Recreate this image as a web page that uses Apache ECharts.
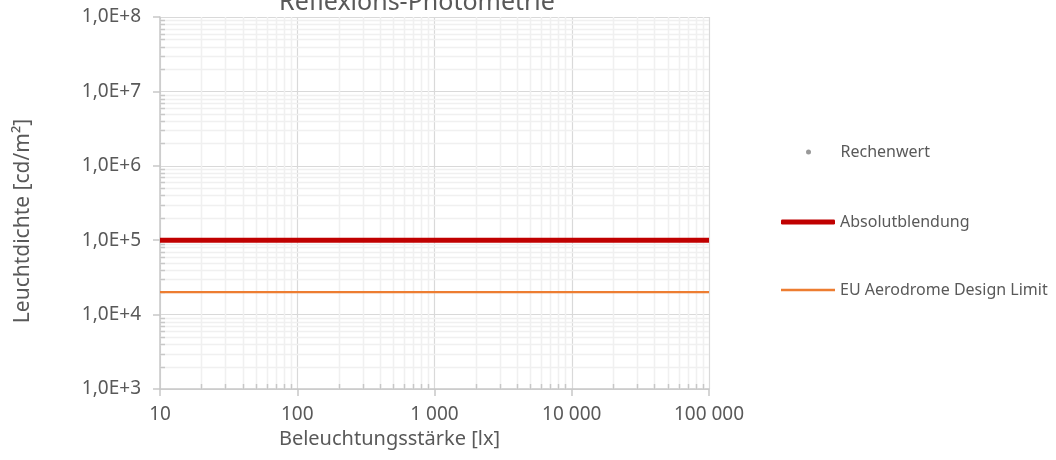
<!DOCTYPE html>
<html>
<head>
<meta charset="utf-8">
<script src="https://cdn.jsdelivr.net/npm/echarts@6/dist/echarts.min.js"></script>
<style>html,body{margin:0;padding:0;background:#fff}#c{width:1056px;height:460px}</style>
</head>
<body>
<div id="c"></div>
<script>
// ---- data ----
const chartTitle = 'Reflexions-Photometrie';
const xName = 'Beleuchtungsstärke [lx]';
const yName = 'Leuchtdichte [cd/m²]';
const xRange = [10, 100000];
const yRange = [1000, 100000000];
const rechenwert = [];                       // no visible points
const absolutblendungX = [10, 100000];
const absolutblendungY = [100000, 100000];
const euLimitX = [10, 100000];
const euLimitY = [20000, 20000];

// minor graduations (2..9 per decade) for log axes
function minors(lo, hi) {
  const out = [];
  for (let d = lo; d < hi; d *= 10) for (let k = 2; k <= 9; k++) out.push(d * k);
  return out;
}
const xMinor = minors(xRange[0], xRange[1]);
const yMinor = minors(yRange[0], yRange[1]);

const FONT = 'Noto Sans';
const TXT = '#595959';
const GRID_MAJOR = '#d9d9d9';
const GRID_MINOR = '#f0f0f0';
const AXIS = '#c8c8c8';

const chart = echarts.init(document.getElementById('c'));

function fmtX(v) { return String(Math.round(v)).replace(/\B(?=(\d{3})+(?!\d))/g, ' '); }
function fmtY(v) { return '1,0E+' + Math.round(Math.log10(v)); }

const legendText = { fontFamily: FONT, fontSize: 16, color: TXT };

const option = {
  animation: false,
  textStyle: { fontFamily: FONT },
  title: {
    text: chartTitle, left: 417, top: -10, padding: 0, textAlign: 'center',
    textStyle: { fontFamily: FONT, fontSize: 25, fontWeight: 'normal', color: TXT }
  },
  grid: { left: 160, right: 347, top: 17, bottom: 71 },
  legend: [
    { data: [{ name: 'Rechenwert', icon: 'circle' }], orient: 'vertical', left: 801, top: 139,
      itemWidth: 54, itemHeight: 5, textStyle: legendText },
    { data: [{ name: 'Absolutblendung', icon: 'roundRect' }], orient: 'vertical', left: 776, top: 209,
      itemWidth: 54, itemHeight: 5, textStyle: legendText },
    { data: [{ name: 'EU Aerodrome Design Limit', icon: 'rect' }], orient: 'vertical', left: 776, top: 277,
      itemWidth: 54, itemHeight: 2.5, textStyle: legendText }
  ],
  xAxis: {
    type: 'log', logBase: 10, min: xRange[0], max: xRange[1],
    name: xName, nameLocation: 'middle', nameGap: 36,
    nameTextStyle: { fontFamily: FONT, fontSize: 20, color: TXT, padding: [0, 90, 0, 0] },
    axisLine: { show: true, lineStyle: { color: AXIS, width: 1.5 } },
    axisTick: { show: true, length: 7, lineStyle: { color: AXIS, width: 1.5 } },
    axisLabel: { fontFamily: FONT, fontSize: 19, color: TXT, margin: 16, formatter: fmtX },
    splitLine: { show: true, lineStyle: { color: GRID_MAJOR, width: 1.2 } }
  },
  yAxis: {
    type: 'log', logBase: 10, min: yRange[0], max: yRange[1],
    name: yName, nameLocation: 'middle', nameGap: 126, nameRotate: 90,
    nameTextStyle: { fontFamily: FONT, fontSize: 21, color: TXT, padding: [0, 36, 0, 0] },
    axisLine: { show: true, lineStyle: { color: AXIS, width: 1.5 } },
    axisTick: { show: true, length: 7, lineStyle: { color: AXIS, width: 1.5 } },
    axisLabel: { fontFamily: FONT, fontSize: 19, color: TXT, margin: 19, formatter: fmtY },
    splitLine: { show: true, lineStyle: { color: GRID_MAJOR, width: 1.2 } }
  },
  series: [
    {
      type: 'custom', name: '_xminor', silent: true, z: 1,
      data: xMinor.map(v => [v, yRange[0]]),
      renderItem: function (params, api) {
        const cs = params.coordSys;
        const x = Math.round(api.coord([api.value(0), yRange[0]])[0]) + 0.5;
        const b = cs.y + cs.height;
        return { type: 'group', children: [
          { type: 'line', shape: { x1: x, y1: cs.y, x2: x, y2: b }, style: { stroke: GRID_MINOR, lineWidth: 1.5 } },
          { type: 'line', shape: { x1: x, y1: b - 5, x2: x, y2: b }, style: { stroke: AXIS, lineWidth: 1.5 } }
        ] };
      }
    },
    {
      type: 'custom', name: '_yminor', silent: true, z: 1,
      data: yMinor.map(v => [xRange[0], v]),
      renderItem: function (params, api) {
        const cs = params.coordSys;
        const y = Math.round(api.coord([xRange[0], api.value(1)])[1]) + 0.5;
        return { type: 'group', children: [
          { type: 'line', shape: { x1: cs.x, y1: y, x2: cs.x + cs.width, y2: y }, style: { stroke: GRID_MINOR, lineWidth: 1.5 } },
          { type: 'line', shape: { x1: cs.x, y1: y, x2: cs.x + 5, y2: y }, style: { stroke: AXIS, lineWidth: 1.5 } }
        ] };
      }
    },
    {
      type: 'scatter', name: 'Rechenwert', symbolSize: 5,
      itemStyle: { color: '#7f7f7f' }, data: rechenwert
    },
    {
      type: 'line', name: 'Absolutblendung', symbol: 'none', z: 4,
      lineStyle: { color: '#C00000', width: 5 }, itemStyle: { color: '#C00000' },
      data: absolutblendungX.map((x, i) => [x, absolutblendungY[i]])
    },
    {
      type: 'line', name: 'EU Aerodrome Design Limit', symbol: 'none', z: 4,
      lineStyle: { color: '#ED7D31', width: 2.2 }, itemStyle: { color: '#ED7D31' },
      data: euLimitX.map((x, i) => [x, euLimitY[i]])
    }
  ]
};
chart.setOption(option);
</script>
</body>
</html>
